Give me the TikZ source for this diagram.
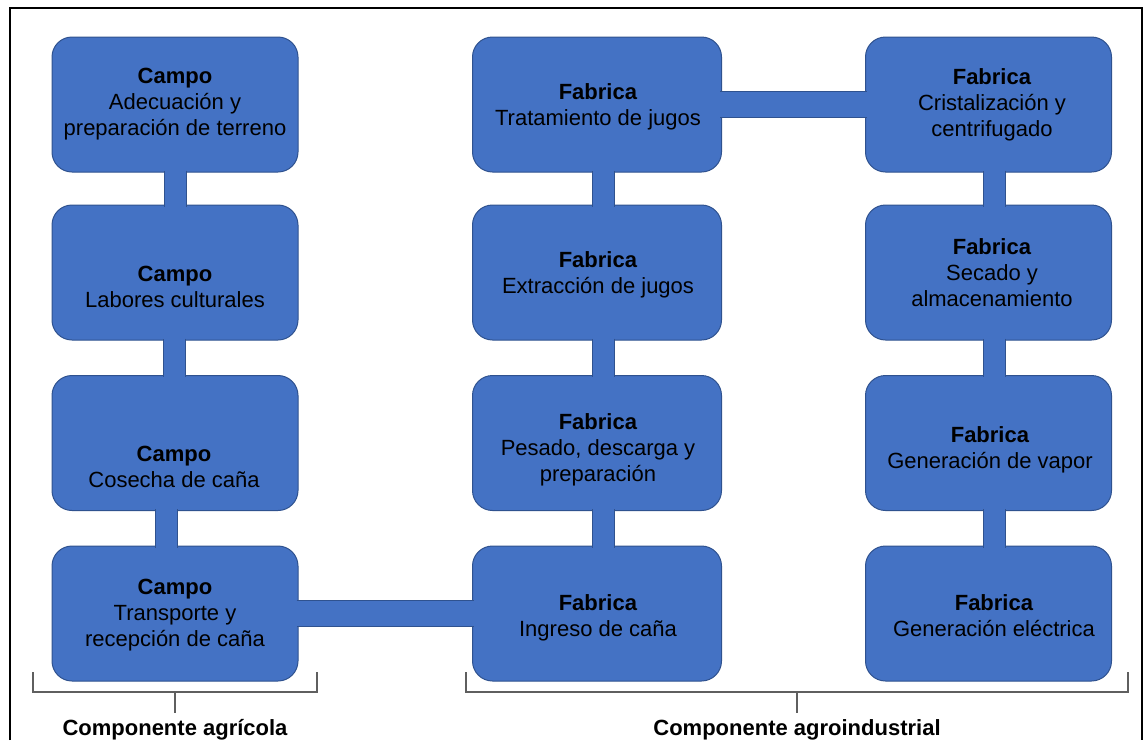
\documentclass[tikz,border=0pt]{standalone}
\usepackage{fontspec}
\setmainfont{Liberation Sans}
\definecolor{cajaazul}{RGB}{68,114,196}
\definecolor{bordeazul}{RGB}{47,82,143}
\definecolor{llavegris}{RGB}{95,95,95}

\begin{document}
\begin{tikzpicture}[x=1pt, y=-1pt,
  caja/.style={draw=bordeazul, fill=cajaazul, rounded corners=20pt, line width=1pt,
    minimum width=246pt, minimum height=135pt, inner sep=0pt},
  texto/.style={align=center, font=\fontsize{22}{26}\selectfont, inner sep=0pt},
  enlace/.style={draw=bordeazul, line width=1pt, double=cajaazul, double distance=21pt,
    shorten <=-2pt, shorten >=-2pt},
  enlaceh/.style={enlace, double distance=25pt},
  llave/.style={draw=llavegris, line width=1.3pt},
  titulo/.style={font=\bfseries\fontsize{22}{26}\selectfont, inner sep=0pt, anchor=base}]
  \useasboundingbox (0,0) rectangle (1146,740);
  \draw[line width=2.5pt] (10,740) -- (10,8) -- (1142,8) -- (1142,740);

  \node[caja] (cam1) at (175,104.5) {};
  \node[caja] (cam2) at (175,272.5) {};
  \node[caja] (cam3) at (175,443) {};
  \node[caja] (cam4) at (175,613.5) {};
  \node[caja, minimum width=249pt] (fab1) at (597,104.5) {};
  \node[caja, minimum width=249pt] (fab2) at (597,272.5) {};
  \node[caja, minimum width=249pt] (fab3) at (597,443) {};
  \node[caja, minimum width=249pt] (fab4) at (597,613.5) {};
  \node[caja] (fab5) at (988.5,104.5) {};
  \node[caja] (fab6) at (988.5,272.5) {};
  \node[caja] (fab7) at (988.5,443) {};
  \node[caja] (fab8) at (988.5,613.5) {};

  \foreach \a/\b/\dx in {cam1/cam2/0, cam2/cam3/-1, cam3/cam4/-9,
      fab1/fab2/6, fab2/fab3/6, fab3/fab4/6, fab5/fab6/6, fab6/fab7/6, fab7/fab8/6}
    \draw[enlace] ([xshift=\dx pt]\a.south) -- ([xshift=\dx pt]\b.north);
  \draw[enlaceh] (fab1.east) -- (fab5.west);
  \draw[enlaceh] (cam4.east) -- (fab4.west);

  \node[texto] (tcam1) at (175,104) {\textbf{Campo}\\Adecuación y\\preparación de terreno};
  \node[texto] (tcam2) at (175,287) {\textbf{Campo}\\Labores culturales};
  \node[texto] (tcam3) at (174,467) {\textbf{Campo}\\Cosecha de caña};
  \node[texto] (tcam4) at (175,615) {\textbf{Campo}\\Transporte y\\recepción de caña};
  \node[texto] (tfab1) at (598,107) {\textbf{Fabrica}\\Tratamiento de jugos};
  \node[texto] (tfab2) at (598,275) {\textbf{Fabrica}\\Extracción de jugos};
  \node[texto] (tfab3) at (598,450) {\textbf{Fabrica}\\Pesado, descarga y\\preparación};
  \node[texto] (tfab4) at (598,618) {\textbf{Fabrica}\\Ingreso de caña};
  \node[texto] (tfab5) at (992,105) {\textbf{Fabrica}\\Cristalización y\\centrifugado};
  \node[texto] (tfab6) at (992,273) {\textbf{Fabrica}\\Secado y\\almacenamiento};
  \node[texto] (tfab7) at (990,450) {\textbf{Fabrica}\\Generación de vapor};
  \node[texto] (tfab8) at (994,616) {\textbf{Fabrica}\\Generación eléctrica};

  \node[titulo] (agricola) at (175,735) {Componente agrícola};
  \node[titulo] (agroind) at (797,735) {Componente agroindustrial};

  \coordinate (agriI) at (33,672);
  \coordinate (agriD) at (317,672);
  \coordinate (agriM) at (175,692);
  \coordinate (indI) at (466,672);
  \coordinate (indD) at (1128,672);
  \coordinate (indM) at (797,692);
  \draw[llave] (agriI) -- (agriI |- agriM) -- (agriD |- agriM) -- (agriD);
  \draw[llave] (agriM) -- ([yshift=6pt]agricola.north);
  \draw[llave] (indI) -- (indI |- indM) -- (indD |- indM) -- (indD);
  \draw[llave] (indM) -- ([yshift=6pt]agroind.north);
\end{tikzpicture}
\end{document}
